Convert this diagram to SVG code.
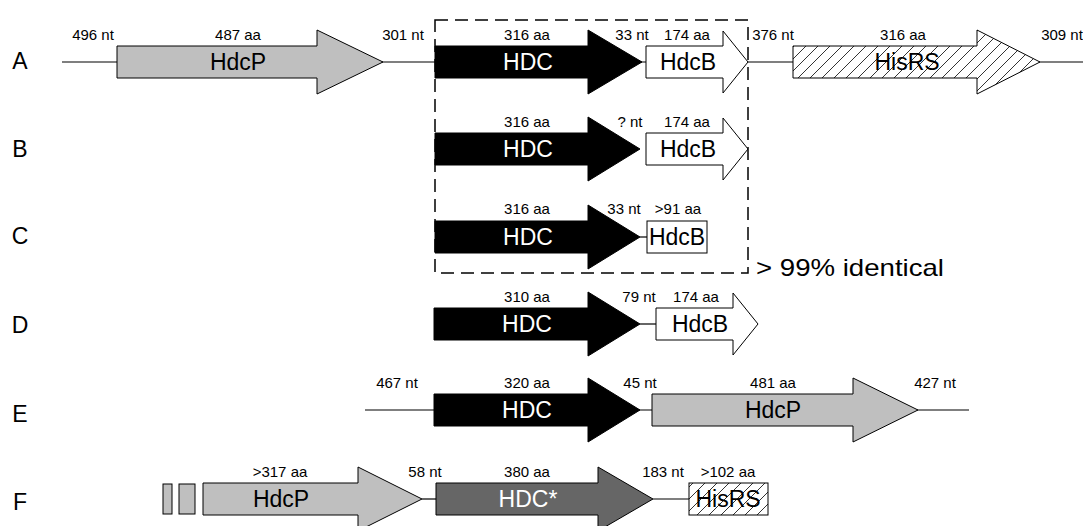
<svg xmlns="http://www.w3.org/2000/svg" width="1083" height="526" viewBox="0 0 1083 526">
<style>
text{font-family:"Liberation Sans",Arial,sans-serif;fill:#000}
.s{font-size:15px;text-anchor:middle}
.b{font-size:23px;text-anchor:middle}
.w{fill:#fff}
.L{font-size:23px;text-anchor:middle}
.ln{stroke:#000;stroke-width:1.2;fill:none}
.g{fill:#bfbfbf;stroke:#000;stroke-width:1}
.k{fill:#000;stroke:#000;stroke-width:1}
.dk{fill:#666;stroke:#000;stroke-width:1}
.wt{fill:#fff;stroke:#000;stroke-width:1}
.h{fill:url(#hatch);stroke:#000;stroke-width:1}
</style>
<defs>
<pattern id="hatch" patternUnits="userSpaceOnUse" width="12" height="12">
<rect width="12" height="12" fill="#fff"/>
<path d="M0,12 L12,0 M-3,3 L3,-3 M9,15 L15,9" stroke="#000" stroke-width="0.8"/>
</pattern>
</defs>
<rect width="1083" height="526" fill="#fff"/>

<g id="connectors">
<line class="ln" x1="62" y1="62" x2="1083" y2="62"/>
<line class="ln" x1="640" y1="237" x2="647" y2="237"/>
<line class="ln" x1="640" y1="324" x2="656" y2="324"/>
<line class="ln" x1="365" y1="410" x2="969" y2="410"/>
<line class="ln" x1="422" y1="499" x2="436" y2="499"/>
<line class="ln" x1="653" y1="499" x2="689" y2="499"/>
</g>

<g id="identity-box">
<rect x="435" y="20" width="313" height="253" fill="none" stroke="#000" stroke-width="1.5" stroke-dasharray="13 7"/>
<text x="756" y="276" style="font-size:24px" textLength="188" lengthAdjust="spacingAndGlyphs">&gt; 99% identical</text>
</g>

<g id="row-labels">
<text class="L" x="20" y="69">A</text>
<text class="L" x="20" y="157">B</text>
<text class="L" x="20" y="244">C</text>
<text class="L" x="20" y="333">D</text>
<text class="L" x="20" y="422">E</text>
<text class="L" x="20" y="510">F</text>
</g>

<g id="rowA">
<g id="A-HdcP"><polygon class="g" points="117,46 317,46 317,30 383,62 317,94 317,78 117,78"/><text class="b" x="238" y="70">HdcP</text></g>
<g id="A-HDC"><polygon class="k" points="435,46 588,46 588,30 642,62 588,94 588,78 435,78"/><text class="b w" x="528" y="70">HDC</text></g>
<g id="A-HdcB"><polygon class="wt" points="646,46 723,46 723,31 748,62 723,93 723,78 646,78"/><text class="b" x="688" y="70">HdcB</text></g>
<g id="A-HisRS"><polygon class="h" points="793,46 977,46 977,30 1040,62 977,94 977,78 793,78"/><text class="b" x="907" y="70">HisRS</text></g>
<text class="s" x="93" y="40">496 nt</text>
<text class="s" x="238" y="40">487 aa</text>
<text class="s" x="403" y="40">301 nt</text>
<text class="s" x="527" y="40">316 aa</text>
<text class="s" x="632" y="40">33 nt</text>
<text class="s" x="687" y="40">174 aa</text>
<text class="s" x="773" y="40">376 nt</text>
<text class="s" x="903" y="40">316 aa</text>
<text class="s" x="1062" y="40">309 nt</text>
</g>

<g id="rowB">
<g id="B-HDC"><polygon class="k" points="435,133 588,133 588,117 640,149 588,181 588,165 435,165"/><text class="b w" x="528" y="157">HDC</text></g>
<g id="B-HdcB"><polygon class="wt" points="646,133 723,133 723,118 748,149 723,180 723,165 646,165"/><text class="b" x="688" y="157">HdcB</text></g>
<text class="s" x="527" y="127">316 aa</text>
<text class="s" x="630" y="127">? nt</text>
<text class="s" x="687" y="127">174 aa</text>
</g>

<g id="rowC">
<g id="C-HDC"><polygon class="k" points="435,221 588,221 588,205 640,237 588,269 588,253 435,253"/><text class="b w" x="528" y="245">HDC</text></g>
<g id="C-HdcB"><rect class="wt" x="647" y="221" width="60" height="32"/><text class="b" x="677" y="245">HdcB</text></g>
<text class="s" x="527" y="214">316 aa</text>
<text class="s" x="624" y="214">33 nt</text>
<text class="s" x="678" y="214">&gt;91 aa</text>
</g>

<g id="rowD">
<g id="D-HDC"><polygon class="k" points="434,308 588,308 588,292 640,324 588,356 588,340 434,340"/><text class="b w" x="527" y="332">HDC</text></g>
<g id="D-HdcB"><polygon class="wt" points="656,308 733,308 733,293 758,324 733,355 733,340 656,340"/><text class="b" x="700" y="332">HdcB</text></g>
<text class="s" x="527" y="302">310 aa</text>
<text class="s" x="639" y="302">79 nt</text>
<text class="s" x="696" y="302">174 aa</text>
</g>

<g id="rowE">
<g id="E-HDC"><polygon class="k" points="434,394 588,394 588,378 640,410 588,442 588,426 434,426"/><text class="b w" x="527" y="418">HDC</text></g>
<g id="E-HdcP"><polygon class="g" points="652,394 853,394 853,378 918,410 853,442 853,426 652,426"/><text class="b" x="773" y="418">HdcP</text></g>
<text class="s" x="397" y="388">467 nt</text>
<text class="s" x="527" y="388">320 aa</text>
<text class="s" x="640" y="388">45 nt</text>
<text class="s" x="773" y="388">481 aa</text>
<text class="s" x="935" y="388">427 nt</text>
</g>

<g id="rowF">
<g id="F-fragments"><rect class="g" x="163" y="484" width="9" height="30"/><rect class="g" x="179" y="484" width="16" height="30"/></g>
<g id="F-HdcP"><polygon class="g" points="203,483 358,483 358,467 422,499 358,531 358,515 203,515"/><text class="b" x="281" y="507">HdcP</text></g>
<g id="F-HDCstar"><polygon class="dk" points="436,483 598,483 598,467 653,499 598,531 598,515 436,515"/><text class="b w" x="528" y="507">HDC*</text></g>
<g id="F-HisRS"><rect class="h" x="689" y="483" width="79" height="32"/><text class="b" x="728" y="507">HisRS</text></g>
<text class="s" x="280" y="477">&gt;317 aa</text>
<text class="s" x="425" y="477">58 nt</text>
<text class="s" x="527" y="477">380 aa</text>
<text class="s" x="663" y="477">183 nt</text>
<text class="s" x="728" y="477">&gt;102 aa</text>
</g>
</svg>
